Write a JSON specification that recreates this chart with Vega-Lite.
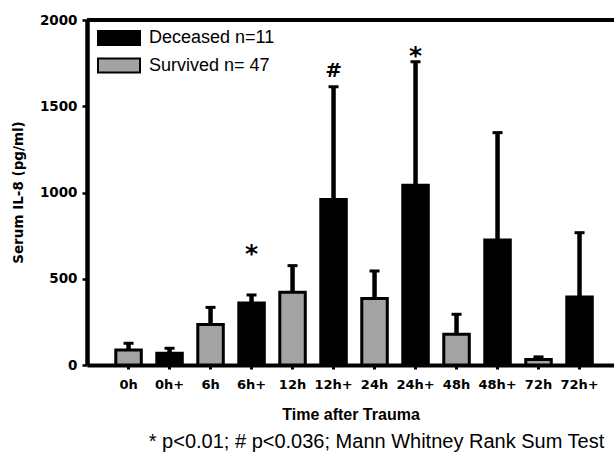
{
  "$schema": "https://vega.github.io/schema/vega-lite/v6.json",
  "width": 527,
  "height": 345,
  "autosize": {"type": "none"},
  "padding": {"left": 87, "top": 20, "right": 0, "bottom": 88},
  "background": "white",
  "config": {"view": {"stroke": null}},
  "title": {
    "text": "* p<0.01; # p<0.036; Mann Whitney Rank Sum Test",
    "orient": "bottom",
    "anchor": "middle",
    "font": "Liberation Sans",
    "fontSize": 20,
    "fontWeight": "normal",
    "color": "black",
    "offset": 10,
    "dx": 26
  },
  "data": {
    "values": [
      {"time": "0h", "group": "Survived n= 47", "mean": 87, "upper": 126, "sig": null, "sig_y": null},
      {"time": "0h+", "group": "Deceased n=11", "mean": 68, "upper": 97, "sig": null, "sig_y": null},
      {"time": "6h", "group": "Survived n= 47", "mean": 235, "upper": 334, "sig": null, "sig_y": null},
      {"time": "6h+", "group": "Deceased n=11", "mean": 360, "upper": 406, "sig": "*", "sig_y": 680},
      {"time": "12h", "group": "Survived n= 47", "mean": 422, "upper": 576, "sig": null, "sig_y": null},
      {"time": "12h+", "group": "Deceased n=11", "mean": 960, "upper": 1613, "sig": "#", "sig_y": 1710},
      {"time": "24h", "group": "Survived n= 47", "mean": 386, "upper": 545, "sig": null, "sig_y": null},
      {"time": "24h+", "group": "Deceased n=11", "mean": 1042, "upper": 1758, "sig": "*", "sig_y": 1826},
      {"time": "48h", "group": "Survived n= 47", "mean": 178, "upper": 294, "sig": null, "sig_y": null},
      {"time": "48h+", "group": "Deceased n=11", "mean": 724, "upper": 1347, "sig": null, "sig_y": null},
      {"time": "72h", "group": "Survived n= 47", "mean": 32, "upper": 47, "sig": null, "sig_y": null},
      {"time": "72h+", "group": "Deceased n=11", "mean": 394, "upper": 767, "sig": null, "sig_y": null}
    ]
  },
  "layer": [
    {
      "mark": {"type": "bar", "stroke": "black", "strokeWidth": 3},
      "encoding": {
        "x": {
          "field": "time", "type": "nominal", "sort": null,
          "scale": {"paddingInner": 0.378, "paddingOuter": 0.616, "align": 0.57},
          "axis": {
            "title": "Time after Trauma",
            "labelAngle": 0,
            "labelFont": "DejaVu Sans", "labelFontWeight": "bold", "labelFontSize": 13, "labelColor": "black",
            "labelPadding": 9,
            "tickSize": 4, "tickWidth": 3, "tickColor": "black",
            "domainWidth": 4, "domainColor": "black",
            "titleFont": "Liberation Sans", "titleFontWeight": "bold", "titleFontSize": 16, "titleColor": "black",
            "titlePadding": 15
          }
        },
        "y": {
          "field": "mean", "type": "quantitative",
          "scale": {"domain": [0, 2000], "nice": false},
          "axis": {
            "title": "Serum IL-8 (pg/ml)",
            "values": [0, 500, 1000, 1500, 2000],
            "format": "d",
            "grid": false,
            "labelFont": "DejaVu Sans", "labelFontWeight": "bold", "labelFontSize": 13.5, "labelColor": "black",
            "labelPadding": 5,
            "tickSize": 5, "tickWidth": 2.5, "tickColor": "black",
            "domainWidth": 4.5, "domainColor": "black",
            "titleFont": "DejaVu Sans", "titleFontWeight": "bold", "titleFontSize": 13.5, "titleColor": "black",
            "titleAngle": -90, "titleX": -69, "titleY": 172, "titleAlign": "center", "titleBaseline": "middle"
          }
        },
        "fill": {
          "field": "group", "type": "nominal",
          "scale": {"domain": ["Deceased n=11", "Survived n= 47"], "range": ["#000000", "#a3a3a3"]},
          "legend": {
            "title": null,
            "orient": "none",
            "legendX": 23,
            "legendY": 9,
            "padding": 0,
            "symbolType": "M-3,-1H3V1H-3Z",
            "symbolSize": 196,
            "symbolStrokeColor": "black",
            "symbolStrokeWidth": 2,
            "symbolOpacity": 1,
            "labelFont": "Liberation Sans",
            "labelFontSize": 18,
            "labelColor": "black",
            "labelOffset": 21,
            "rowPadding": 5.5
          }
        }
      }
    },
    {
      "mark": {"type": "rule", "strokeWidth": 4.5, "color": "black"},
      "encoding": {
        "x": {"field": "time", "type": "nominal", "sort": null},
        "y": {"field": "mean", "type": "quantitative"},
        "y2": {"field": "upper"}
      }
    },
    {
      "mark": {"type": "tick", "size": 10, "thickness": 3, "color": "black", "opacity": 1},
      "encoding": {
        "x": {"field": "time", "type": "nominal", "sort": null},
        "y": {"field": "upper", "type": "quantitative"}
      }
    },
    {
      "transform": [{"filter": "datum.sig === '*'"}],
      "mark": {"type": "text", "font": "DejaVu Sans", "fontWeight": "bold", "fontSize": 25, "baseline": "alphabetic", "dy": 14, "color": "black"},
      "encoding": {
        "x": {"field": "time", "type": "nominal", "sort": null},
        "y": {"field": "sig_y", "type": "quantitative"},
        "text": {"field": "sig"}
      }
    },
    {
      "transform": [{"filter": "datum.sig === '#'"}],
      "mark": {"type": "text", "font": "DejaVu Sans", "fontWeight": "bold", "fontSize": 20, "baseline": "alphabetic", "dy": 7, "color": "black"},
      "encoding": {
        "x": {"field": "time", "type": "nominal", "sort": null},
        "y": {"field": "sig_y", "type": "quantitative"},
        "text": {"field": "sig"}
      }
    },
    {
      "data": {"values": [{}]},
      "mark": {"type": "rule", "strokeWidth": 4, "color": "black"},
      "encoding": {"y": {"datum": 2000}}
    }
  ]
}
